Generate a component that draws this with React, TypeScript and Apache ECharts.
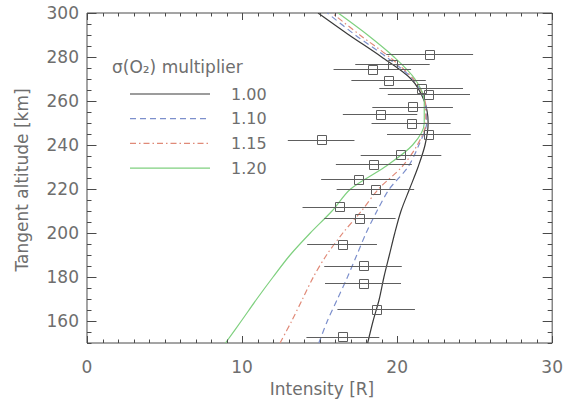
import React, { useEffect, useRef } from "react";
import * as echarts from "echarts";

// Model curve altitudes (km)
const altitudes = [150, 160, 170, 180, 190, 200, 210, 220, 230, 240, 250, 260, 270, 280, 290, 300];
// Model intensities (R) for each O2 cross-section multiplier
const model100 = [18.1, 18.45, 18.85, 19.15, 19.5, 19.85, 20.25, 20.8, 21.35, 21.8, 22.0, 21.75, 20.9, 19.0, 16.9, 14.9];
const model110 = [14.95, 15.5, 16.15, 16.8, 17.4, 18.0, 18.7, 19.5, 20.7, 21.4, 21.9, 21.8, 21.0, 19.3, 17.3, 15.5];
const model115 = [12.45, 13.2, 13.9, 14.6, 15.45, 16.5, 17.7, 18.8, 20.3, 21.3, 21.85, 21.8, 21.05, 19.5, 17.6, 15.8];
const model120 = [8.93, 9.95, 10.95, 12.0, 13.1, 14.4, 15.8, 17.0, 19.2, 21.0, 21.75, 21.75, 21.15, 19.8, 18.1, 16.2];
const multipliers = ["1.00", "1.10", "1.15", "1.20"];

// Observations
const obsAlt = [281.2, 276.7, 274.4, 269.5, 265.8, 263.0, 257.4, 254.0, 249.9, 245.0, 242.3, 235.5, 231.2, 224.5, 219.9, 212.0, 206.7, 194.9, 185.1, 177.1, 165.3, 152.9];
const obsInt = [22.1, 19.7, 18.4, 19.45, 21.55, 22.05, 21.0, 18.9, 20.9, 22.05, 15.1, 20.25, 18.5, 17.5, 18.6, 16.3, 17.6, 16.45, 17.8, 17.8, 18.65, 16.5];
const obsErr = [2.8, 2.4, 2.5, 2.4, 2.7, 2.65, 2.6, 2.4, 2.55, 2.7, 2.15, 2.6, 2.45, 2.4, 2.5, 2.4, 2.3, 2.25, 2.5, 2.45, 2.5, 2.35];

// Axis ticks
const xMin = 0, xMax = 30, xMajorStep = 10, xMinorStep = 1;
const yMin = 150, yMax = 300, yMinorStep = 5;
const xTicks = [0, 10, 20, 30];
const yTicks = [160, 180, 200, 220, 240, 260, 280, 300];

const FONT = "DejaVu Sans";
const TEXT = "#6e6e6e";
const AXIS = "#4a4a4a";

const styles = [
  { color: "#3a3a3a", type: "solid" as any },
  { color: "#7c8fcc", type: [6, 4] as any },
  { color: "#e08a78", type: [6, 3, 1.5, 3] as any },
  { color: "#7fd07f", type: "solid" as any },
];
const models = [model100, model110, model115, model120];

// tick marks: [x, y, kind] kind 0 = x major, 1 = x minor, 2 = y major, 3 = y minor
function buildTicks() {
  const t: number[][] = [];
  for (let v = xMin; v <= xMax; v += xMinorStep) t.push([v, yMin, v % xMajorStep === 0 ? 0 : 1]);
  for (let v = yMin; v <= yMax; v += yMinorStep) t.push([xMin, v, yTicks.indexOf(v) >= 0 ? 2 : 3]);
  return t;
}

const px = (v: number) => Math.round(v) + 0.5;

export default function App() {
  const ref = useRef<HTMLDivElement>(null);
  useEffect(() => {
    if (!ref.current) return;
    const chart = echarts.init(ref.current, undefined, { renderer: "svg" });

    const legendTop = 94;
    const legendGap = 24.7;
    const graphic: any[] = [
      {
        type: "text",
        left: 112,
        top: 58,
        style: { text: "σ(O₂) multiplier", fill: TEXT, font: `17px "${FONT}"` },
      },
      {
        type: "text",
        x: 322,
        y: 389,
        style: { text: "Intensity [R]", fill: TEXT, font: `17px "${FONT}"`, align: "center", verticalAlign: "middle" },
      },
      {
        type: "text",
        x: 22,
        y: 180,
        rotation: Math.PI / 2,
        style: { text: "Tangent altitude [km]", fill: TEXT, font: `17px "${FONT}"`, align: "center", verticalAlign: "middle" },
      },
    ];
    multipliers.forEach((m, i) => {
      const y = legendTop + i * legendGap;
      graphic.push({
        type: "line",
        shape: { x1: 130, y1: y, x2: 210, y2: y },
        style: { stroke: styles[i].color, lineWidth: 1.2, lineDash: styles[i].type === "solid" ? null : styles[i].type },
      });
      graphic.push({
        type: "text",
        x: 231,
        y,
        style: { text: m, fill: TEXT, font: `16px "${FONT}"`, verticalAlign: "middle" },
      });
    });

    const modelSeries = models.map((m, i) => ({
      type: "line" as const,
      data: altitudes.map((a, j) => [m[j], a]),
      showSymbol: false,
      smooth: 0.3,
      lineStyle: { color: styles[i].color, width: 1.2, type: styles[i].type },
      z: 3,
      silent: true,
    }));

    const obsSeries = {
      type: "custom" as const,
      data: obsAlt.map((a, i) => [obsInt[i], a, obsErr[i]]),
      encode: { x: 0, y: 1 },
      z: 4,
      renderItem: (params: any, api: any) => {
        const x = api.value(0);
        const y = api.value(1);
        const e = api.value(2);
        const lo = api.coord([x - e, y]);
        const hi = api.coord([x + e, y]);
        const c = api.coord([x, y]);
        const s = 9;
        const cy = px(c[1]);
        return {
          type: "group",
          children: [
            {
              type: "line",
              shape: { x1: lo[0], y1: cy, x2: hi[0], y2: cy },
              style: { stroke: "#5e5e5e", lineWidth: 1 },
            },
            {
              type: "rect",
              shape: { x: px(c[0] - s / 2), y: px(c[1] - s / 2), width: s, height: s },
              style: { fill: "none", stroke: "#5e5e5e", lineWidth: 1 },
            },
          ],
        };
      },
    };

    const tickSeries = {
      type: "custom" as const,
      data: buildTicks(),
      encode: { x: 0, y: 1 },
      z: 5,
      silent: true,
      renderItem: (params: any, api: any) => {
        const x = api.value(0);
        const y = api.value(1);
        const kind = api.value(2);
        const st = { stroke: AXIS, lineWidth: 1 };
        if (kind <= 1) {
          const len = kind === 0 ? 7 : 3.5;
          const b = api.coord([x, yMin]);
          const t = api.coord([x, yMax]);
          const xx = px(b[0]);
          return {
            type: "group",
            children: [
              { type: "line", shape: { x1: xx, y1: b[1], x2: xx, y2: b[1] - len }, style: st },
              { type: "line", shape: { x1: xx, y1: t[1], x2: xx, y2: t[1] + len }, style: st },
            ],
          };
        }
        const len = kind === 2 ? 9.5 : 4.5;
        const l = api.coord([xMin, y]);
        const r = api.coord([xMax, y]);
        const yy = px(l[1]);
        return {
          type: "group",
          children: [
            { type: "line", shape: { x1: l[0], y1: yy, x2: l[0] + len, y2: yy }, style: st },
            { type: "line", shape: { x1: r[0], y1: yy, x2: r[0] - len, y2: yy }, style: st },
          ],
        };
      },
    };

    chart.setOption({
      animation: false,
      backgroundColor: "#ffffff",
      grid: {
        left: 87,
        right: 10,
        top: 13,
        bottom: 56,
        containLabel: false,
        show: true,
        borderColor: AXIS,
        borderWidth: 1,
        backgroundColor: "transparent",
      },
      xAxis: {
        type: "value",
        min: xMin,
        max: xMax,
        interval: xMajorStep,
        axisLine: { show: false },
        axisTick: { show: false },
        splitLine: { show: false },
        axisLabel: { show: true, margin: 15, color: TEXT, fontFamily: FONT, fontSize: 17, customValues: xTicks },
      },
      yAxis: {
        type: "value",
        min: yMin,
        max: yMax,
        axisLine: { show: false },
        axisTick: { show: false },
        splitLine: { show: false },
        axisLabel: { show: true, margin: 8, color: TEXT, fontFamily: FONT, fontSize: 17, customValues: yTicks },
      },
      series: [...modelSeries, obsSeries, tickSeries],
      graphic,
    });

    return () => chart.dispose();
  }, []);

  return <div ref={ref} style={{ width: 566, height: 399, position: "absolute", left: 0, top: 0 }} />;
}
